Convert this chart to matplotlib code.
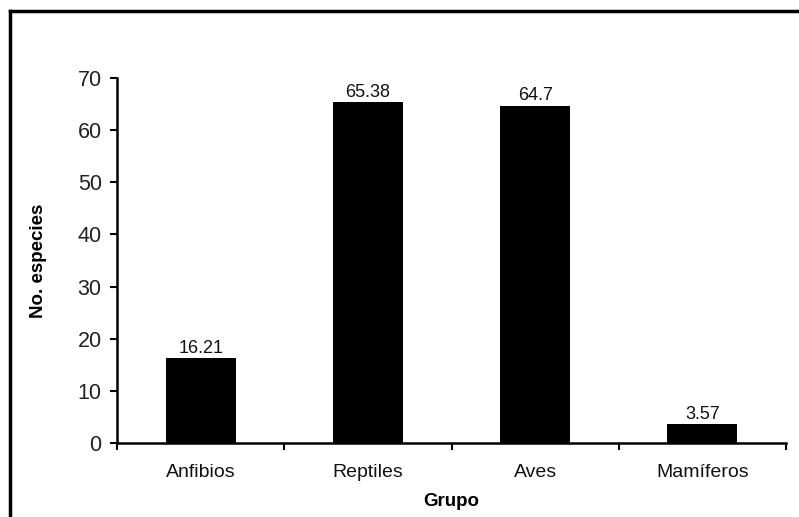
import matplotlib
matplotlib.use("Agg")
import matplotlib.pyplot as plt
from matplotlib.lines import Line2D

categories = ["Anfibios", "Reptiles", "Aves", "Mamíferos"]
values = [16.21, 65.38, 64.7, 3.57]
value_labels = ["16.21", "65.38", "64.7", "3.57"]
yticks = [0, 10, 20, 30, 40, 50, 60, 70]

plt.rcParams['font.family'] = ['Liberation Sans', 'DejaVu Sans']

fig = plt.figure(figsize=(7.99, 5.17), dpi=100)
ax = fig.add_axes([117/799, 74/517, (786-117)/799, (443-78)/517])

x = list(range(len(categories)))
bars = ax.bar(x, values, width=0.42, color="black", zorder=2)
for xi, v, lab in zip(x, values, value_labels):
    ax.annotate(lab, (xi, v), xytext=(0, 1), textcoords="offset points",
                ha="center", va="bottom", fontsize=13, color="#111111")

ax.set_xlim(-0.5, len(categories) - 0.5)
ax.set_ylim(0, 70)
ax.set_yticks(yticks)
ax.set_yticklabels([str(t) for t in yticks], fontsize=15.5, color="#222222")

# category labels at centers, tick marks at boundaries
ax.set_xticks([i - 0.5 for i in range(len(categories) + 1)])
ax.set_xticklabels([""] * (len(categories) + 1))
ax.set_xticks(x, minor=True)
ax.set_xticklabels(categories, minor=True, fontsize=14, color="#111111")
ax.tick_params(axis="x", which="minor", length=0, pad=15)
ax.tick_params(axis="x", which="major", length=5, width=1.5, direction="out")
ax.tick_params(axis="y", length=5, width=1.5, direction="out", pad=6)

for s in ["top", "right"]:
    ax.spines[s].set_visible(False)
for s in ["left", "bottom"]:
    ax.spines[s].set_linewidth(1.8)

ax.set_ylabel("No. especies", fontsize=13.5, fontweight="bold", labelpad=22)
ax.set_xlabel("Grupo", fontsize=13.5, fontweight="bold", labelpad=9)

# outer frame (left and top edges visible)
fig.add_artist(Line2D([10/799, 10/799], [0, 1 - 11/517], transform=fig.transFigure,
                      color="black", linewidth=2.5))
fig.add_artist(Line2D([10/799, 1], [1 - 11/517, 1 - 11/517], transform=fig.transFigure,
                      color="black", linewidth=2.5))

fig.savefig("out.png", dpi=100)
